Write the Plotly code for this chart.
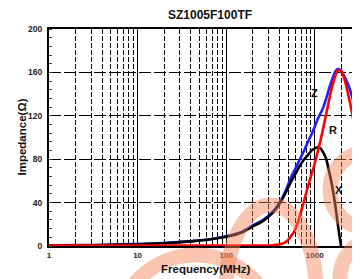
import math
import plotly.graph_objects as go

# ---------------- data ----------------
title_text = "SZ1005F100TF"
freq_mhz = [1, 2, 5, 10, 20, 40, 70, 100, 150, 200, 260, 330, 400, 470, 530, 600, 680,
            760, 840, 920, 1000, 1080, 1160, 1250, 1350, 1450, 1550, 1650, 1750, 1850,
            1950, 2050, 2200, 2350, 2500, 2650, 2800, 3000]
z_ohm = [0.6, 0.8, 1.2, 1.8, 2.8, 4.5, 6.5, 9, 13, 19, 24, 31, 40, 51, 62, 71, 80,
         88, 96, 103, 110, 117, 122, 128, 136, 145, 152, 158, 162, 163,
         162, 160, 155, 150, 144, 137, 130, 120]
r_ohm = [0.3, 0.3, 0.3, 0.3, 0.3, 0.3, 0.3, 0.3, 0.3, 0.3, 0.4, 0.7, 1.5, 3.5, 8, 15, 28,
         42, 55, 66, 76, 87, 97, 109, 122, 134, 145, 153, 159, 162,
         162, 159, 152, 142, 132, 122, 110, 93]
freq_x_mhz = [1, 2, 5, 10, 20, 40, 70, 100, 150, 200, 260, 330, 400, 470, 530, 600, 680,
              760, 840, 920, 1000, 1080, 1160, 1250, 1350, 1450, 1550, 1650, 1750, 1850,
              1930, 1980]
x_ohm = [0.3, 0.5, 1, 1.5, 2.5, 4.3, 6.5, 8.5, 12.5, 18, 23, 30, 39, 49, 58, 66, 74,
         80, 84, 88, 90, 91, 90, 86, 80, 69, 58, 45, 31, 16,
         6, 0]
x_tickvals = [1, 10, 100, 1000, 3000]
x_ticktext = ["1", "10", "100", "1000", "3000"]
x_minorvals = [2, 3, 4, 5, 6, 7, 8, 9, 20, 30, 40, 50, 60, 70, 80, 90,
               200, 300, 400, 500, 600, 700, 800, 900, 2000]
y_tickvals = [0, 40, 80, 120, 160, 200]
curve_labels = [("Z", 987, 141), ("R", 1618, 107), ("X", 1892, 52)]

# ---------------- layout geometry ----------------
# the page body has an 8px margin, so the figure is drawn 8px in from the corner
OFF = 8
W, H = 360 - OFF, 279 - OFF
ML, MT = 49 - OFF, 29 - OFF
MR = W - (357 - OFF)
MB = H - (246 - OFF)
PW, PH = W - ML - MR, H - MT - MB
FONT = "Liberation Sans, Arial, sans-serif"


def px_x(px):
    return (px - OFF - ML) / PW


def px_y(py):
    return (H - MB - (py - OFF)) / PH


fig = go.Figure()
line_w = 2.6
fig.add_trace(go.Scatter(x=freq_mhz, y=z_ohm, mode="lines", name="Z",
                         line=dict(color="#1f1fff", width=line_w, shape="spline", smoothing=0.5)))
fig.add_trace(go.Scatter(x=freq_x_mhz, y=x_ohm, mode="lines", name="X",
                         line=dict(color="#000000", width=line_w, shape="spline", smoothing=0.5)))
fig.add_trace(go.Scatter(x=freq_mhz, y=r_ohm, mode="lines", name="R",
                         line=dict(color="#ff0000", width=line_w, shape="spline", smoothing=0.5)))

annotations = []
for txt, fx, fy in curve_labels:
    annotations.append(dict(x=math.log10(fx), y=fy, xref="x", yref="y", text=f"<b>{txt}</b>",
                            showarrow=False, font=dict(family=FONT, size=11, color="#111")))
annotations.append(dict(x=px_x(21), y=0.5, xref="paper", yref="paper", text="<b>Impedance(Ω)</b>",
                        textangle=-90, showarrow=False, xanchor="center", yanchor="middle",
                        font=dict(family=FONT, size=11.5, color="#111")))
annotations.append(dict(x=px_x(205.5), y=px_y(269), xref="paper", yref="paper",
                        text="<b>Frequency(MHz)</b>", showarrow=False, xanchor="center",
                        yanchor="middle", font=dict(family=FONT, size=11.5, color="#111")))
annotations.append(dict(x=px_x(210), y=px_y(15), xref="paper", yref="paper",
                        text=f"<b>{title_text}</b>", showarrow=False, xanchor="center",
                        yanchor="middle", font=dict(family=FONT, size=12, color="#111")))

# watermark arcs (semi-transparent, on top)
wm_color = "rgb(245,130,85)"
shapes = []


def ring(cx, cy, rx, ry):
    return dict(type="circle", xref="paper", yref="paper", layer="above",
                x0=px_x(cx - rx), x1=px_x(cx + rx), y0=px_y(cy + ry), y1=px_y(cy - ry),
                line=dict(color=wm_color, width=15), fillcolor="rgba(0,0,0,0)", opacity=0.45)


shapes.append(ring(196, 335, 80, 80))
shapes.append(ring(271, 290, 45, 85))
shapes.append(ring(368, 190, 38, 38))
shapes.append(ring(380, 278, 40, 40))

fig.update_layout(
    width=W, height=H,
    margin=dict(l=ML, r=MR, t=MT, b=MB, autoexpand=False),
    paper_bgcolor="white", plot_bgcolor="white",
    showlegend=False,
    annotations=annotations,
    shapes=shapes,
)

fig.update_xaxes(
    type="log", range=[0, math.log10(3000)],
    tickmode="array", tickvals=x_tickvals, ticktext=[f"<b>{t}</b>" for t in x_ticktext],
    tickfont=dict(family=FONT, size=8, color="#222"),
    ticks="", showgrid=True, gridcolor="black", gridwidth=1,
    minor=dict(tickmode="array", tickvals=x_minorvals, showgrid=True, gridcolor="black",
               gridwidth=1, griddash="5px,2px", ticks=""),
    showline=True, linecolor="black", linewidth=2, mirror=True,
    zeroline=False, layer="below traces",
)
fig.update_yaxes(
    range=[0, 200], tickmode="array", tickvals=y_tickvals,
    ticktext=[f"<b>{v}</b>" for v in y_tickvals],
    tickfont=dict(family=FONT, size=8.5, color="#222"),
    ticks="", ticklabelstandoff=3,
    showgrid=True, gridcolor="black", gridwidth=1, griddash="12px,3px",
    minor=dict(dtick=8, ticks="inside", ticklen=3, tickcolor="#444", tickwidth=1, showgrid=False),
    showline=True, linecolor="black", linewidth=2, mirror=True,
    zeroline=False, layer="below traces",
)

fig.write_html("out.html")
